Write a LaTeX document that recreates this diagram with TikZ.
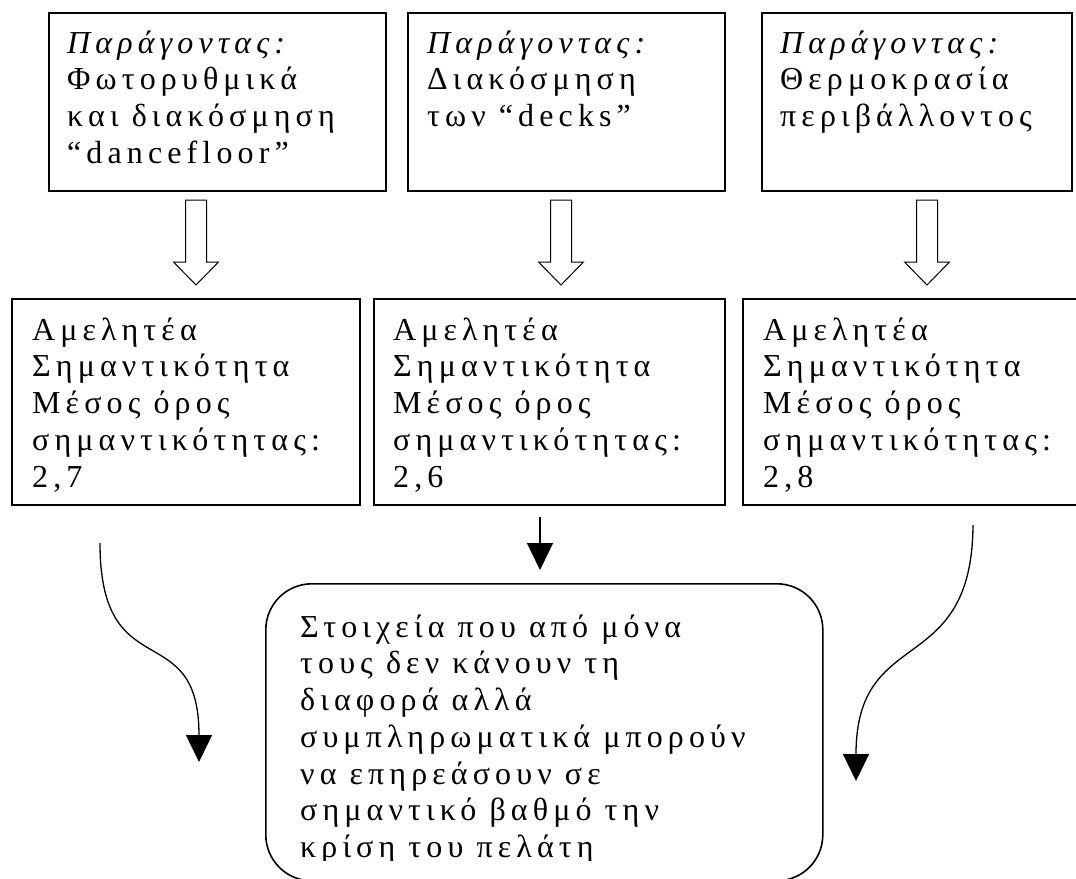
\documentclass[tikz,border=0pt]{standalone}
\usepackage{fontspec}
\newfontfamily\grfont{Liberation Serif}[LetterSpace=16]
\usetikzlibrary{positioning,arrows.meta}
\newcommand{\firstline}{\rule{0pt}{27pt}}

\begin{document}
\begin{tikzpicture}[x=1pt,y=-1pt]
        \tikzstyle{box}=[rectangle,draw=black,line width=1.6pt,anchor=north west,inner sep=0pt]
        \tikzstyle{words}=[anchor=north west,inner sep=0pt,align=left,font=\grfont\fontsize{32}{36.7}\selectfont]
        \tikzstyle{flow}=[line width=1.3pt,-{Triangle[length=27pt,width=26pt]}]
        \tikzset{hollow/.pic={\draw[line width=1pt] (-10.5,0) -- (10.5,0) -- (10.5,62) -- (22.5,62) -- (0,85) -- (-22.5,62) -- (-10.5,62) -- cycle;}}
        \useasboundingbox (0,0) rectangle (1076,878);
        % factors
        \node[box,minimum width=337pt,minimum height=178pt] (factor_1) at (48,12) {};
        \node[box,minimum width=317pt,minimum height=178pt] (factor_2) at (407,12) {};
        \node[box,minimum width=310pt,minimum height=178pt] (factor_3) at (761,12) {};
        \node[words] (factor_1_text) [below right=14pt and 19pt of factor_1.north west] {\firstline{\itshape Παράγοντας:}\\Φωτορυθμικά\\και διακόσμηση\\“dancefloor”};
        \node[words] (factor_2_text) [below right=14pt and 20pt of factor_2.north west] {\firstline{\itshape Παράγοντας:}\\Διακόσμηση\\των “decks”};
        \node[words] (factor_3_text) [below right=14pt and 19pt of factor_3.north west] {\firstline{\itshape Παράγοντας:}\\Θερμοκρασία\\περιβάλλοντος};
        \pic at (196,200) {hollow};
        \pic at (561,200) {hollow};
        \pic at (927,200) {hollow};
        % ratings
        \node[box,minimum width=348pt,minimum height=206pt] (rating_1) at (11,298) {};
        \node[box,minimum width=351pt,minimum height=206pt] (rating_2) at (373,298) {};
        \node[box,minimum width=340pt,minimum height=206pt] (rating_3) at (742,298) {};
        \node[words] (rating_1_text) [below right=15pt and 21pt of rating_1.north west] {\firstline Αμελητέα\\Σημαντικότητα\\Μέσος όρος\\σημαντικότητας:\\2,7};
        \node[words] (rating_2_text) [below right=15pt and 20pt of rating_2.north west] {\firstline Αμελητέα\\Σημαντικότητα\\Μέσος όρος\\σημαντικότητας:\\2,6};
        \node[words] (rating_3_text) [below right=15pt and 21pt of rating_3.north west] {\firstline Αμελητέα\\Σημαντικότητα\\Μέσος όρος\\σημαντικότητας:\\2,8};
        % summary
        \node[box,rounded corners=46pt,minimum width=557pt,minimum height=297pt] (summary) at (265,583) {};
        \begin{scope}
            \clip (265,583) rectangle (822,860);
            \node[words] (summary_text) [below right=27pt and 35pt of summary.north west] {\firstline Στοιχεία που από μόνα\\τους δεν κάνουν τη\\διαφορά αλλά\\συμπληρωματικά μπορούν\\να επηρεάσουν σε\\σημαντικό βαθμό την\\κρίση του πελάτη};
        \end{scope}
        \coordinate (curve_l_start) at (100,543);
        \coordinate (curve_l_end) at (199,762);
        \coordinate (drop_start) at (540,517);
        \coordinate (drop_end) at (540,570);
        \coordinate (curve_r_start) at (973,525);
        \coordinate (curve_r_end) at (856,781);
        \draw[flow] (curve_l_start) .. controls (100,690) and (199,614) .. (curve_l_end);
        \draw[flow] (drop_start) -- (drop_end);
        \draw[flow] (curve_r_start) .. controls (972,680) and (856,623) .. (curve_r_end);
\end{tikzpicture}
\end{document}
